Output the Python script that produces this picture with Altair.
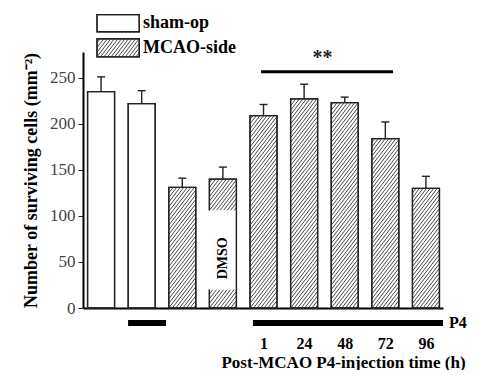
import altair as alt
import pandas as pd

# ---- data ----
positions = [1, 2, 3, 4, 5, 6, 7, 8, 9]
groups = ["sham-op", "sham-op", "MCAO-side", "MCAO-side", "MCAO-side",
          "MCAO-side", "MCAO-side", "MCAO-side", "MCAO-side"]
means = [235, 222, 131, 140, 209, 227, 223, 184, 130]
sems = [16, 14, 10, 13, 12, 16, 6, 18, 13]
hour_labels = ["1", "24", "48", "72", "96"]
hour_positions = [5, 6, 7, 8, 9]
dmso_position = 4
dmso_gap = [20, 106]          # white window (value units) holding the label
y_ticks = [0, 50, 100, 150, 200, 250]

# ---- layout ----
W, H = 360, 256
XMIN, XMAX = 0.555, 9.42
YMAX = 278
PXX = W / (XMAX - XMIN)
PXY = H / YMAX
HALF = 13.5 / PXX
CAP = 4.0 / PXX
SERIF = "Liberation Serif"

xs = alt.Scale(domain=[XMIN, XMAX], nice=False, zero=False)
ys = alt.Scale(domain=[0, YMAX], nice=False, zero=False)

label_expr = "[" + ",".join("'%s'" % h for h in hour_labels) + "][datum.value - %d]" % hour_positions[0]

X_AX = alt.Axis(
    values=hour_positions, labelExpr=label_expr, ticks=False, grid=False,
    domainColor="black", domainWidth=2, labelFont=SERIF, labelFontWeight="bold",
    labelFontSize=16, labelColor="black", labelPadding=27,
    title="Post-MCAO P4-injection time (h)", titleFont=SERIF, titleFontWeight="bold",
    titleFontSize=17, titleColor="black", titleX=260, titlePadding=3)
Y_AX = alt.Axis(
    values=y_ticks, grid=False, domainColor="black", domainWidth=2,
    tickColor="#222", tickSize=5, labelFont=SERIF, labelFontSize=17,
    labelColor="#444", labelPadding=3,
    title="Number of surviving cells (mm⁻²)", titleFont=SERIF,
    titleFontWeight="bold", titleFontSize=18, titleColor="black", titlePadding=9)


def X(f):
    return alt.X(f, scale=xs, axis=X_AX)


def Y(f):
    return alt.Y(f, scale=ys, axis=Y_AX)


def hatch(x0, x1, y0, y1, spacing=4.6, slope=1.3):
    wp = (x1 - x0) * PXX
    hp = (y1 - y0) * PXY
    segs = []
    b = -slope * wp
    b = spacing * (int(b / spacing) - 1)
    while b < hp:
        a = max(0.0, -b / slope)
        e = min(wp, (hp - b) / slope)
        if e > a:
            segs.append({"hx": x0 + a / PXX, "hy": y0 + (slope * a + b) / PXY,
                         "hx2": x0 + e / PXX, "hy2": y0 + (slope * e + b) / PXY})
        b += spacing
    return segs


df = pd.DataFrame({"pos": positions, "mean": means, "sem": sems, "group": groups})

hatch_rows = []
for p, m, g in zip(positions, means, groups):
    if g != "MCAO-side":
        continue
    if p == dmso_position:
        hatch_rows += hatch(p - HALF, p + HALF, 0, dmso_gap[0])
        hatch_rows += hatch(p - HALF, p + HALF, dmso_gap[1], m)
    else:
        hatch_rows += hatch(p - HALF, p + HALF, 0, m)

# legend boxes (value units, above the plot)
leg_x = [0.9, 1.94]
leg_white = [300, 318.5]
leg_hatch = [272.8, 292.4]
hatch_rows += hatch(leg_x[0], leg_x[1], leg_hatch[0], leg_hatch[1])
hatch_df = pd.DataFrame(hatch_rows)

base = alt.Chart(df)
bar_calc = dict(xl="datum.pos - %f" % HALF, xr="datum.pos + %f" % HALF, y0="0")

bars = base.mark_rect(fill="white", stroke="#222", strokeWidth=1.3).transform_calculate(
    **bar_calc).encode(x=X("xl:Q"), x2="xr:Q", y=Y("y0:Q"), y2="mean:Q")

hatch_layer = alt.Chart(hatch_df).mark_rule(color="#333", strokeWidth=0.9).encode(
    x=X("hx:Q"), y=Y("hy:Q"), x2="hx2:Q", y2="hy2:Q")

outline = base.mark_rect(fill=None, stroke="#222", strokeWidth=1.3).transform_calculate(
    **bar_calc).encode(x=X("xl:Q"), x2="xr:Q", y=Y("y0:Q"), y2="mean:Q")

gap_df = pd.DataFrame({"pos": [dmso_position], "lo": [dmso_gap[0]], "hi": [dmso_gap[1]],
                       "label": ["DMSO"], "mid": [54]})
gap = alt.Chart(gap_df).mark_rect(fill="white").transform_calculate(
    xl="datum.pos - %f" % (HALF + 1.5 / PXX), xr="datum.pos + %f" % (HALF - 1.2 / PXX)
).encode(x=X("xl:Q"), x2="xr:Q", y=Y("lo:Q"), y2="hi:Q")
gap_text = alt.Chart(gap_df).mark_text(
    angle=270, font=SERIF, fontWeight="bold", fontSize=14, color="black", baseline="middle"
).encode(x=X("pos:Q"), y=Y("mid:Q"), text="label:N")

err = base.mark_rule(color="#222", strokeWidth=1.4).transform_calculate(
    top="datum.mean + datum.sem"
).encode(x=X("pos:Q"), y=Y("mean:Q"), y2="top:Q")
caps = base.mark_rule(color="#222", strokeWidth=1.4).transform_calculate(
    top="datum.mean + datum.sem", cl="datum.pos - %f" % CAP, cr="datum.pos + %f" % CAP
).encode(x=X("cl:Q"), x2="cr:Q", y=Y("top:Q"))

# significance bar and stars
sig_df = pd.DataFrame({"x1": [4.94], "x2": [8.19], "y": [256.5], "tx": [6.45], "ty": [275.5], "t": ["**"]})
sig = alt.Chart(sig_df).mark_rule(color="black", strokeWidth=3).encode(
    x=X("x1:Q"), x2="x2:Q", y=Y("y:Q"))
stars = alt.Chart(sig_df).mark_text(font=SERIF, fontWeight="bold", fontSize=20, color="#222",
                                    baseline="middle", dy=4).encode(
    x=X("tx:Q"), y=Y("ty:Q"), text="t:N")

# treatment bars below the axis
treat_df = pd.DataFrame({"x1": [1.665, 4.74], "x2": [2.6, 9.42], "lo": [-19.5, -19.5], "hi": [-13, -13]})
treat = alt.Chart(treat_df).mark_rect(color="black").encode(
    x=X("x1:Q"), x2="x2:Q", y=Y("lo:Q"), y2="hi:Q")
p4_df = pd.DataFrame({"x": [9.57], "y": [-16.3], "t": ["P4"]})
p4 = alt.Chart(p4_df).mark_text(font=SERIF, fontWeight="bold", fontSize=16, color="black",
                                align="left", baseline="middle").encode(
    x=X("x:Q"), y=Y("y:Q"), text="t:N")

# legend
leg_df = pd.DataFrame({"x1": [leg_x[0], leg_x[0]], "x2": [leg_x[1], leg_x[1]],
                       "lo": [leg_white[0], leg_hatch[0]], "hi": [leg_white[1], leg_hatch[1]],
                       "tx": [2.03, 2.03], "label": ["sham-op", "MCAO-side"]})
leg_box = alt.Chart(leg_df).mark_rect(fill="white", stroke="#222", strokeWidth=1.3).encode(
    x=X("x1:Q"), x2="x2:Q", y=Y("lo:Q"), y2="hi:Q")
leg_box_outline = alt.Chart(leg_df).mark_rect(fill=None, stroke="#222", strokeWidth=1.3).encode(
    x=X("x1:Q"), x2="x2:Q", y=Y("lo:Q"), y2="hi:Q")
leg_text = alt.Chart(leg_df).mark_text(font=SERIF, fontWeight="bold", fontSize=18, color="black",
                                       align="left", baseline="middle").transform_calculate(
    ym="(datum.lo + datum.hi) / 2"
).encode(x=X("tx:Q"), y=Y("ym:Q"), text="label:N")

chart = alt.layer(
    bars, leg_box, hatch_layer, outline, leg_box_outline, gap, gap_text, err, caps,
    sig, stars, treat, p4, leg_text
).properties(
    width=W, height=H, autosize=alt.AutoSizeParams(type="none"),
    padding={"left": 75, "top": 44, "right": 31, "bottom": 62},
).configure_view(stroke=None)

chart.save("out.html", embed_options={"renderer": "svg", "actions": False})
